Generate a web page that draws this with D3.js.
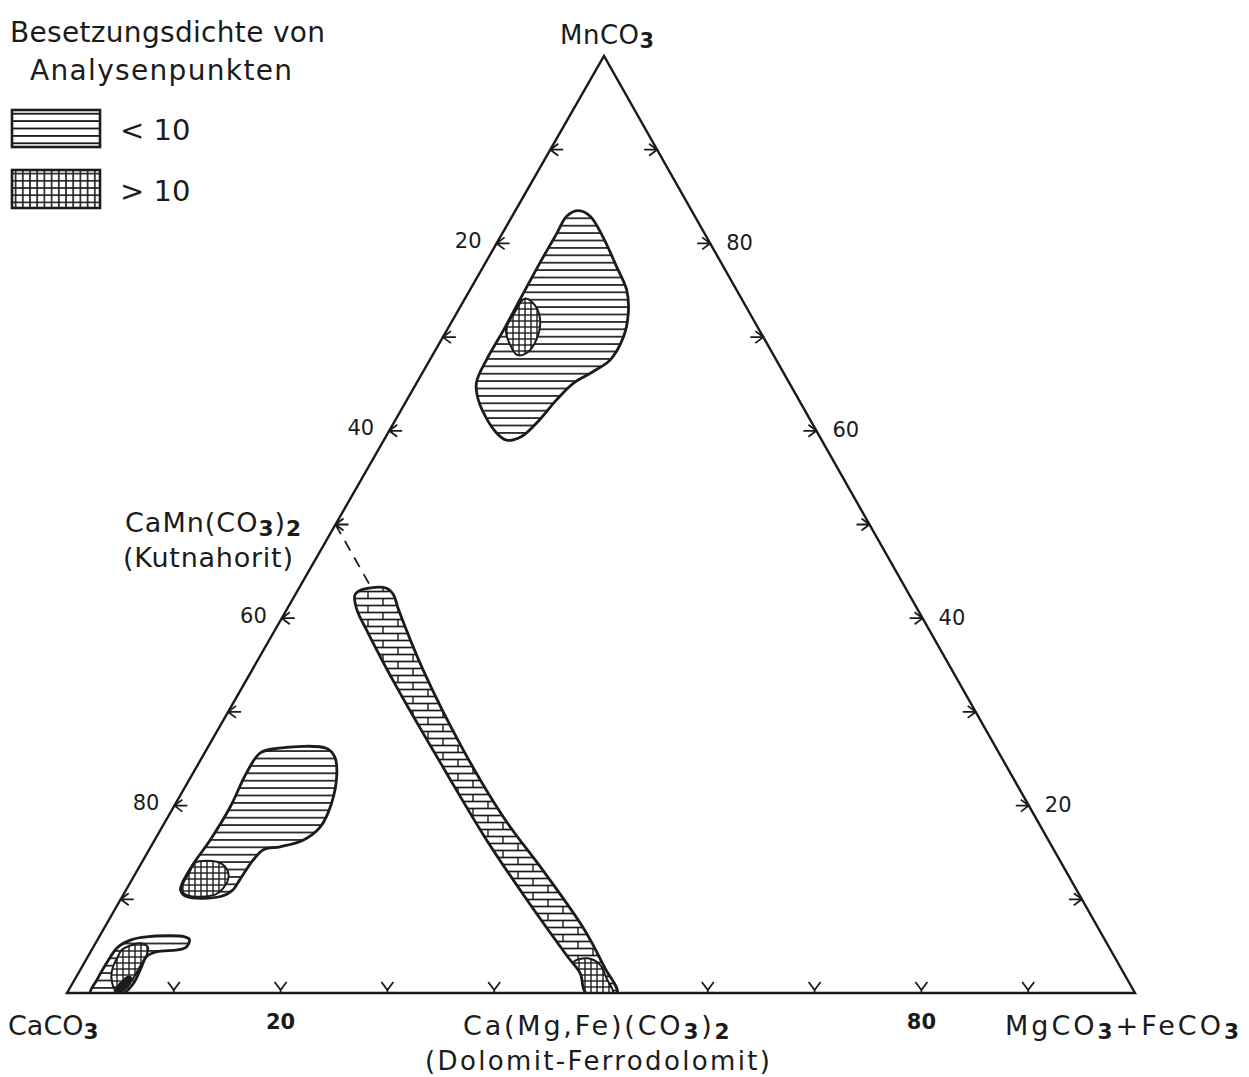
<!DOCTYPE html>
<html><head><meta charset="utf-8">
<script src="https://cdn.jsdelivr.net/npm/d3@7"></script>
<style>html,body{margin:0;padding:0;background:#fff;} svg{display:block;}</style>
</head><body>
<script>
// ---------- DATA (ternary compositions in %, given as [MgCO3+FeCO3, MnCO3]; CaCO3 = rest) ----------
const tickValues = [10, 20, 30, 40, 50, 60, 70, 80, 90];
const leftTickLabels = [20, 40, 60, 80];     // CaCO3 %
const rightTickLabels = [20, 40, 60, 80];    // MnCO3 %
const bottomTickLabels = [20, 80];           // MgCO3+FeCO3 %
const legendTitle = ["Besetzungsdichte von", "Analysenpunkten"];
const legendItems = ["< 10", "> 10"];
const kutnahorite = [0, 50];
const dolomite = [50, 0];

// sparse (< 10) fields
const fieldManganese = [[5.9,83.5],[7.3,82.9],[9.6,80.7],[12.5,77.5],[14.7,75.0],[16.1,72.5],[16.9,70.0],[16.9,67.6],[15.9,66.3],[14.7,65.1],[14.0,63.3],[13.5,61.2],[12.7,59.4],[11.5,59.0],[10.0,59.9],[7.0,62.9],[5.6,65.1],[5.3,67.6],[5.3,70.8],[5.2,74.0],[5.1,77.9],[5.1,81.1],[5.1,82.9]];
const fieldCalcite = [[5.2,25.6],[6.5,26.1],[11.2,26.1],[12.4,25.2],[13.5,23.4],[14.6,20.2],[14.8,17.7],[13.9,16.3],[12.1,15.6],[10.7,15.3],[10.3,14.2],[10.1,12.1],[10.0,11.0],[9.2,10.3],[6.0,10.3],[5.1,11.0],[4.9,11.7],[4.9,13.8],[5.2,16.3],[5.3,19.9],[5.0,23.4]];
const fieldCalciteLow = [[3.2,5.7],[4.4,6.0],[8.0,6.0],[8.6,5.7],[8.7,4.9],[8.0,4.6],[6.2,4.4],[5.5,3.9],[5.6,2.6],[5.7,1.0],[5.3,0.0],[2.2,0.0],[2.1,1.4],[2.1,3.2],[2.3,4.9]];
const fieldDolomite = [[5.6,42.5],[6.1,43.1],[8.2,43.2],[9.2,42.5],[10.4,41.0],[15.9,34.6],[24.1,25.9],[31.5,18.7],[38.2,12.9],[45.0,6.8],[48.9,2.8],[51.5,0.0],[48.6,0.0],[47.0,2.1],[44.9,3.9],[38.0,10.0],[30.9,16.5],[23.5,23.7],[14.7,32.4],[8.8,38.5],[6.5,41.0]];

// dense (> 10) fields
const denseManganese = [[5.6,74.1],[6.9,73.4],[8.2,71.8],[8.9,69.7],[8.7,68.3],[7.9,68.1],[6.6,69.3],[5.5,70.8],[5.4,72.6]];
const denseCalcite = [[5.0,13.9],[7.0,14.0],[8.0,13.5],[8.9,12.4],[9.0,11.2],[8.6,10.5],[6.1,10.4],[5.2,11.0],[5.0,11.7],[5.0,12.8]];
const denseCalciteLow = [[2.8,4.6],[4.2,5.3],[5.1,4.9],[5.4,4.2],[5.4,3.0],[5.4,1.6],[5.1,0.3],[4.4,0.3],[3.3,1.7],[2.9,2.8],[2.8,4.1]];
const denseCalciteCore = [[4.3,0.2],[5.2,0.2],[5.4,1.4],[4.9,1.9],[4.4,1.2]];
const denseDolomite = [[45.8,3.3],[46.9,3.7],[48.4,3.0],[49.7,1.6],[51.1,0.0],[48.5,0.0],[47.1,1.8]];

// ---------- LAYOUT ----------
const W = 1249, H = 1077;
const FONT = "'DejaVu Sans', sans-serif";
const svg = d3.select("body").append("svg").attr("width", W).attr("height", H);
svg.append("rect").attr("width", W).attr("height", H).attr("fill", "#fff");

const x0 = 67;
const sB = d3.scaleLinear().domain([0, 100]).range([0, 1068]);   // along base
const sCx = d3.scaleLinear().domain([0, 100]).range([0, 537]);   // horizontal shift toward apex
const sCy = d3.scaleLinear().domain([0, 100]).range([993, 56]);  // height
const proj = d => [x0 + sB(d[0]) + sCx(d[1]), sCy(d[1])];

const ink = "#1b1b1b";
const defs = svg.append("defs");

function hatchPattern(id, sp, sw, ox, oy) {
  const p = defs.append("pattern").attr("id", id).attr("patternUnits", "userSpaceOnUse")
    .attr("width", 20).attr("height", sp).attr("x", ox || 0).attr("y", oy || 0);
  p.append("line").attr("x1", 0).attr("x2", 20).attr("y1", sp / 2).attr("y2", sp / 2)
    .attr("stroke", ink).attr("stroke-width", sw);
}
function crossPattern(id, sp, sw, ox, oy) {
  const p = defs.append("pattern").attr("id", id).attr("patternUnits", "userSpaceOnUse")
    .attr("width", sp).attr("height", sp).attr("x", ox || 0).attr("y", oy || 0);
  p.append("line").attr("x1", 0).attr("x2", sp).attr("y1", sp / 2).attr("y2", sp / 2).attr("stroke", ink).attr("stroke-width", sw);
  p.append("line").attr("y1", 0).attr("y2", sp).attr("x1", sp / 2).attr("x2", sp / 2).attr("stroke", ink).attr("stroke-width", sw);
}
hatchPattern("hatch", 7.4, 1.7);
crossPattern("cross", 6, 1.4);
hatchPattern("lgHatch", 7.4, 1.8, 12, 110);
crossPattern("lgCross", 7.2, 1.6, 12, 170);
// brick pattern for the dolomite band
(function () {
  const p = defs.append("pattern").attr("id", "brick").attr("patternUnits", "userSpaceOnUse")
    .attr("width", 30).attr("height", 14);
  p.append("line").attr("x1", 0).attr("x2", 30).attr("y1", 3.5).attr("y2", 3.5).attr("stroke", ink).attr("stroke-width", 1.7);
  p.append("line").attr("x1", 0).attr("x2", 30).attr("y1", 10.5).attr("y2", 10.5).attr("stroke", ink).attr("stroke-width", 1.7);
  p.append("line").attr("x1", 8).attr("x2", 8).attr("y1", 3.5).attr("y2", 10.5).attr("stroke", ink).attr("stroke-width", 1.4);
  p.append("line").attr("x1", 23).attr("x2", 23).attr("y1", 10.5).attr("y2", 17.5).attr("stroke", ink).attr("stroke-width", 1.4);
  p.append("line").attr("x1", 23).attr("x2", 23).attr("y1", -3.5).attr("y2", 3.5).attr("stroke", ink).attr("stroke-width", 1.4);
})();

const A = proj([0, 0]), B = proj([100, 0]), C = proj([0, 100]);
defs.append("clipPath").attr("id", "triClip").append("path").attr("d", `M${A}L${B}L${C}Z`);

// ---------- TICKS ----------
const tickG = svg.append("g").attr("stroke", ink).attr("stroke-width", 1.8).attr("fill", "none");
tickValues.forEach(v => {
  // left side: CaCO3 = v  -> Mn = 100 - v, MgFe = 0
  let [x, y] = proj([0, 100 - v]);
  tickG.append("path").attr("d", `M${x + 13},${y}L${x},${y}M${x + 8},${y - 6}L${x},${y}L${x + 8},${y + 6}`);
  // right side: MnCO3 = v, MgFe = 100 - v
  [x, y] = proj([100 - v, v]);
  tickG.append("path").attr("d", `M${x - 13},${y}L${x},${y}M${x - 8},${y - 6}L${x},${y}L${x - 8},${y + 6}`);
  // bottom: MgFe = v
  [x, y] = proj([v, 0]);
  tickG.append("path").attr("d", `M${x - 6},${y - 11}L${x},${y - 3}L${x + 6},${y - 11}M${x},${y - 3}L${x},${y}`);
});

// dashed Ca = 50 % line (kutnahorite -> dolomite)
svg.append("line")
  .attr("x1", proj(kutnahorite)[0]).attr("y1", proj(kutnahorite)[1])
  .attr("x2", proj(dolomite)[0]).attr("y2", proj(dolomite)[1])
  .attr("stroke", ink).attr("stroke-width", 1.8).attr("stroke-dasharray", "11,8");

// ---------- FIELDS ----------
const curve = d3.line().x(d => proj(d)[0]).y(d => proj(d)[1]).curve(d3.curveCatmullRomClosed.alpha(0.5));
const fieldsG = svg.append("g").attr("clip-path", "url(#triClip)");
function field(id, outer, pattern, inners, outerWidth) {
  defs.append("clipPath").attr("id", id).append("path").attr("d", curve(outer));
  fieldsG.append("path").attr("d", curve(outer)).attr("fill", "#fff");
  fieldsG.append("path").attr("d", curve(outer)).attr("fill", `url(#${pattern})`);
  const ig = fieldsG.append("g").attr("clip-path", `url(#${id})`);
  inners.forEach(inn => {
    ig.append("path").attr("d", curve(inn.pts)).attr("fill", "#fff");
    ig.append("path").attr("d", curve(inn.pts)).attr("fill", inn.solid ? ink : "url(#cross)")
      .attr("stroke", ink).attr("stroke-width", inn.solid ? 0.5 : 2);
  });
  fieldsG.append("path").attr("d", curve(outer)).attr("fill", "none")
    .attr("stroke", ink).attr("stroke-width", outerWidth).attr("stroke-linejoin", "round");
}
field("fMn", fieldManganese, "hatch", [{ pts: denseManganese }], 2.8);
field("fCa", fieldCalcite, "hatch", [{ pts: denseCalcite }], 2.8);
field("fCaLow", fieldCalciteLow, "hatch", [{ pts: denseCalciteLow }, { pts: denseCalciteCore, solid: true }], 2.8);
field("fDol", fieldDolomite, "brick", [{ pts: denseDolomite }], 2.8);

// ---------- TRIANGLE ----------
svg.append("path").attr("d", `M${A}L${B}L${C}Z`).attr("fill", "none")
  .attr("stroke", ink).attr("stroke-width", 2.4).attr("stroke-linejoin", "miter");

// ---------- TEXT ----------
const txt = svg.append("g").attr("fill", ink).attr("font-family", FONT);
function formula(x, y, parts, size, anchor, spacing) {
  const t = txt.append("text").attr("x", x).attr("y", y).attr("font-size", size)
    .attr("text-anchor", anchor || "start").attr("letter-spacing", spacing || 0);
  let shifted = false;
  parts.forEach(p => {
    if (p.startsWith("_")) {
      t.append("tspan").text(p.slice(1)).attr("font-size", size * 0.8).attr("font-weight", "bold")
        .attr("dy", shifted ? 0 : size * 0.15);
      shifted = true;
    } else {
      t.append("tspan").text(p).attr("dy", shifted ? -size * 0.15 : 0);
      shifted = false;
    }
  });
  return t;
}

// tick labels
leftTickLabels.forEach(v => {
  const [x, y] = proj([0, 100 - v]);
  txt.append("text").attr("x", x - 15).attr("y", y - 3).attr("dy", "0.35em")
    .attr("text-anchor", "end").attr("font-size", 21).text(v);
});
rightTickLabels.forEach(v => {
  const [x, y] = proj([100 - v, v]);
  txt.append("text").attr("x", x + 16).attr("y", y - 1).attr("dy", "0.35em")
    .attr("text-anchor", "start").attr("font-size", 21).text(v);
});
bottomTickLabels.forEach(v => {
  const [x, y] = proj([v, 0]);
  txt.append("text").attr("x", x).attr("y", y + 36)
    .attr("text-anchor", "middle").attr("font-size", 21).attr("font-weight", "bold").text(v);
});

// vertex & mineral labels
formula(C[0] - 44, 44, ["MnCO", "_3"], 26, "start", 0.5);
formula(8, 1035, ["CaCO", "_3"], 27, "start", 0);
formula(1005, 1035, ["MgCO", "_3", "+FeCO", "_3"], 27, "start", 3);
formula(463, 1035, ["Ca(Mg,Fe)(CO", "_3", ")", "_2"], 27, "start", 2.8);
txt.append("text").attr("x", 425).attr("y", 1070).attr("font-size", 26)
  .attr("textLength", 345).attr("lengthAdjust", "spacing").text("(Dolomit-Ferrodolomit)");
formula(125, 532, ["CaMn(CO", "_3", ")", "_2"], 27, "start", 1);
txt.append("text").attr("x", 123).attr("y", 567).attr("font-size", 27)
  .attr("textLength", 170).attr("lengthAdjust", "spacing").text("(Kutnahorit)");

// ---------- LEGEND ----------
txt.append("text").attr("x", 10).attr("y", 42).attr("font-size", 28)
  .attr("textLength", 315).attr("lengthAdjust", "spacing").text(legendTitle[0]);
txt.append("text").attr("x", 30).attr("y", 80).attr("font-size", 28)
  .attr("textLength", 262).attr("lengthAdjust", "spacing").text(legendTitle[1]);
svg.append("rect").attr("x", 12).attr("y", 110).attr("width", 88).attr("height", 37)
  .attr("fill", "url(#lgHatch)").attr("stroke", ink).attr("stroke-width", 2.6);
svg.append("rect").attr("x", 12).attr("y", 170).attr("width", 88).attr("height", 38)
  .attr("fill", "url(#lgCross)").attr("stroke", ink).attr("stroke-width", 2.6);
txt.append("text").attr("x", 120).attr("y", 140).attr("font-size", 29).text(legendItems[0]);
txt.append("text").attr("x", 120).attr("y", 201).attr("font-size", 29).text(legendItems[1]);
</script>
</body></html>
